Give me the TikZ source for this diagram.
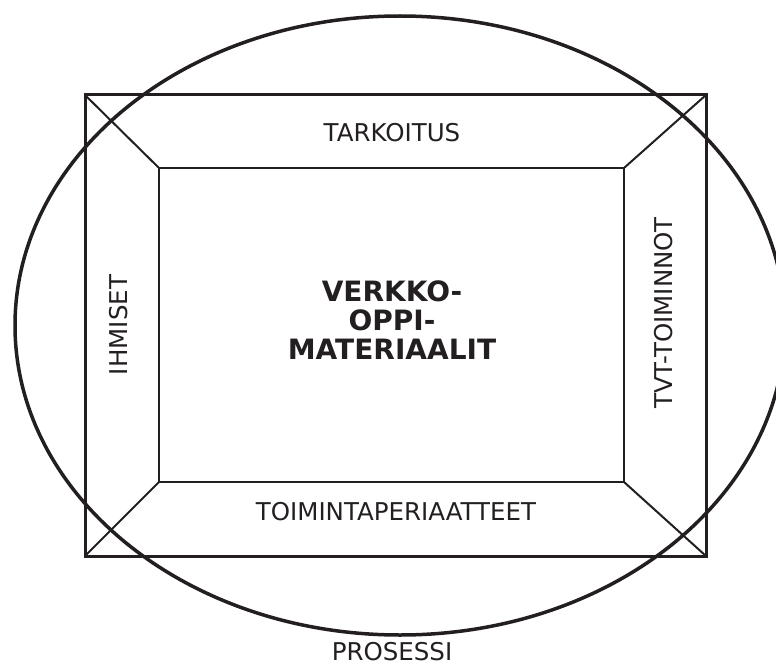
\documentclass[tikz,border=0pt]{standalone}
\usepackage{fontspec}
\setmainfont{DejaVu Sans}
\definecolor{ink}{HTML}{231F20}
\begin{document}
\begin{tikzpicture}[x=1pt,y=-1pt,
  frame/.style={draw=ink,line width=3pt},
  inner/.style={draw=ink,line width=2pt},
  oval/.style={draw=ink,line width=3.5pt},
  lbl/.style={text=ink,font=\fontsize{24.5}{28}\selectfont,inner sep=0pt},
  title/.style={text=ink,font=\fontsize{28}{29}\selectfont\bfseries,align=center,inner sep=0pt}]
\useasboundingbox (0,0) rectangle (776,666);
% outer frame corners
\coordinate (o1) at (85,95);
\coordinate (o2) at (706,95);
\coordinate (o3) at (706,556);
\coordinate (o4) at (85,556);
% inner frame corners
\coordinate (i1) at (159,168);
\coordinate (i2) at (624,168);
\coordinate (i3) at (624,482);
\coordinate (i4) at (159,482);
\draw[frame] (o1) -- (o2) -- (o3) -- (o4) -- cycle;
\draw[inner] (i1) -- (i2) -- (i3) -- (i4) -- cycle;
\draw[inner] (o1) -- (i1);
\draw[inner] (o2) -- (i2);
\draw[inner] (o3) -- (i3);
\draw[inner] (o4) -- (i4);
\draw[oval] (400,325.5) ellipse [x radius=385, y radius=309.5];
\node[lbl,anchor=base] (tark) at (392,142) {TARKOITUS};
\node[lbl,anchor=base] (toim) at (396,520) {TOIMINTAPERIAATTEET};
\node[lbl,rotate=90] (ihm) at (119,325) {IHMISET};
\node[lbl,rotate=90] (tvt) at (664,313) {TVT-TOIMINNOT};
\node[lbl,anchor=base] (pros) at (392,660) {PROSESSI};
\node[title] (mid) at (392,320) {VERKKO-\\OPPI-\\MATERIAALIT};
\end{tikzpicture}
\end{document}
